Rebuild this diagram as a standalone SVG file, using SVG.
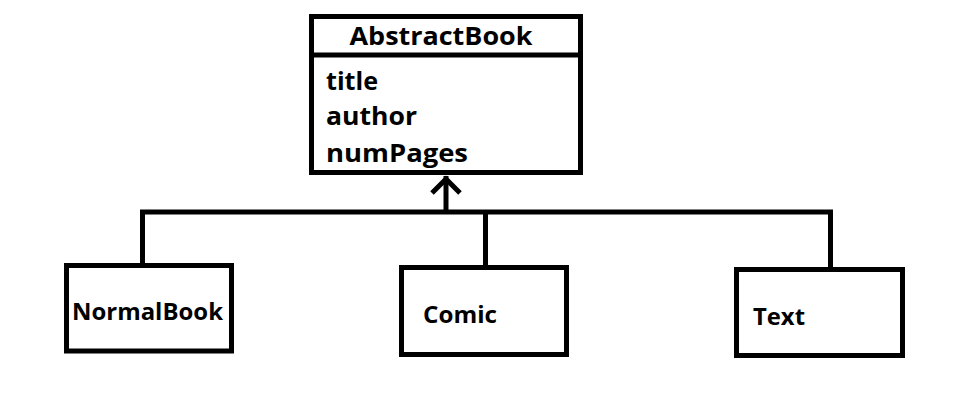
<svg xmlns="http://www.w3.org/2000/svg" width="972" height="406" viewBox="0 0 972 406">
<style>
.box{fill:#fff;stroke:#000;stroke-width:5}
.ln{fill:none;stroke:#000;stroke-width:5}
.t{font-family:"Open Sans","DejaVu Sans",sans-serif;font-weight:bold;fill:#000}
.big{font-size:25px}
.sm{font-size:23px}
</style>
<rect width="972" height="406" fill="#fff"/>
<g id="connectors">
<polyline class="ln" points="142.5,265 142.5,212 830.5,212 830.5,272"/>
<line class="ln" x1="485.5" y1="212" x2="485.5" y2="267"/>
<line class="ln" x1="446" y1="212" x2="446" y2="176"/>
<polyline class="ln" points="432,193 446,179 460,193"/>
</g>
<g id="AbstractBook">
<rect class="box" x="311.5" y="16.5" width="269" height="156"/>
<line class="ln" x1="311.5" y1="55" x2="580.5" y2="55"/>
<text class="t big" x="441" y="45" text-anchor="middle" textLength="183" lengthAdjust="spacingAndGlyphs">AbstractBook</text>
<text class="t big" x="326" y="90" textLength="52" lengthAdjust="spacingAndGlyphs">title</text>
<text class="t big" x="326" y="125" textLength="91" lengthAdjust="spacingAndGlyphs">author</text>
<text class="t big" x="326" y="162" textLength="142" lengthAdjust="spacingAndGlyphs">numPages</text>
</g>
<g id="NormalBook">
<rect class="box" x="66.5" y="265.5" width="165" height="85.5"/>
<text class="t sm" x="72" y="320" textLength="151" lengthAdjust="spacingAndGlyphs">NormalBook</text>
</g>
<g id="Comic">
<rect class="box" x="401.5" y="267.5" width="165" height="87"/>
<text class="t sm" x="423" y="323" textLength="74" lengthAdjust="spacingAndGlyphs">Comic</text>
</g>
<g id="Text">
<rect class="box" x="736.5" y="269.5" width="166" height="86"/>
<text class="t sm" x="753" y="325" textLength="52" lengthAdjust="spacingAndGlyphs">Text</text>
</g>
</svg>
